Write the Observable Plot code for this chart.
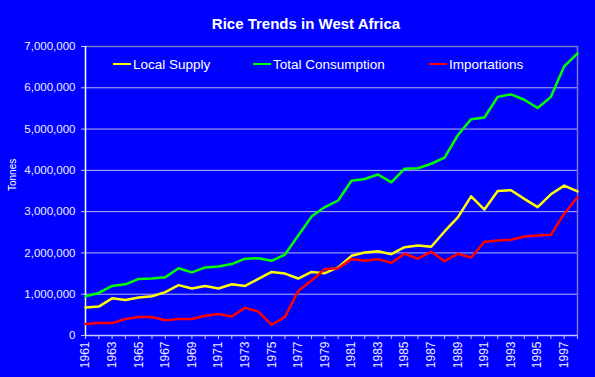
<!DOCTYPE html>
<html><head><meta charset="utf-8">
<script src="https://cdn.jsdelivr.net/npm/d3@7"></script>
<script src="https://cdn.jsdelivr.net/npm/@observablehq/plot@0.6"></script>
<style>
html,body{margin:0;padding:0;background:#0000ff;}
#wrap{position:relative;width:595px;height:377px;background:#0000ff;overflow:hidden;font-family:"Liberation Sans",Arial,sans-serif;color:#fff;}
#title{position:absolute;left:0;top:15px;width:612px;text-align:center;font-size:15px;font-weight:bold;line-height:18px;white-space:nowrap;}
.leg{position:absolute;top:57px;font-size:13.5px;line-height:16px;white-space:nowrap;}
.leg i{display:inline-block;width:18px;height:2px;vertical-align:middle;margin-right:2px;position:relative;top:-1px;}
#chart{position:absolute;left:0;top:0;}
</style>
</head><body>
<div id="wrap">
  <div id="chart"></div>
  <div id="title">Rice Trends in West Africa</div>
  <div id="legend"></div>
</div>
<script>
const years = [1961,1962,1963,1964,1965,1966,1967,1968,1969,1970,1971,1972,1973,1974,1975,1976,1977,1978,1979,1980,1981,1982,1983,1984,1985,1986,1987,1988,1989,1990,1991,1992,1993,1994,1995,1996,1997,1998];
const labeledYears = [1961,1963,1965,1967,1969,1971,1973,1975,1977,1979,1981,1983,1985,1987,1989,1991,1993,1995,1997];
const seriesNames = ["Local Supply","Total Consumption","Importations"];
const seriesColors = ["#ffff00","#00ff00","#ff0000"];
const localSupply = [680000,700000,900000,860000,920000,950000,1050000,1220000,1140000,1200000,1140000,1240000,1200000,1370000,1540000,1500000,1380000,1540000,1510000,1650000,1930000,2010000,2040000,1970000,2140000,2180000,2150000,2520000,2860000,3370000,3050000,3500000,3520000,3310000,3110000,3420000,3630000,3490000];
const totalConsumption = [950000,1030000,1200000,1240000,1370000,1380000,1410000,1630000,1530000,1650000,1670000,1730000,1860000,1870000,1810000,1960000,2420000,2880000,3110000,3270000,3750000,3790000,3900000,3710000,4040000,4050000,4160000,4310000,4850000,5240000,5280000,5780000,5840000,5710000,5510000,5780000,6520000,6830000];
const importations = [280000,300000,300000,400000,450000,450000,370000,400000,400000,480000,520000,460000,670000,580000,260000,450000,1080000,1330000,1610000,1630000,1850000,1810000,1850000,1760000,1980000,1860000,2030000,1800000,1980000,1890000,2270000,2300000,2320000,2400000,2420000,2440000,2950000,3350000];
const yTicks = [0,1000000,2000000,3000000,4000000,5000000,6000000,7000000];
const gridTicks = [1000000,2000000,3000000,4000000,5000000,6000000];
const yLabel = "Tonnes";

const seriesValues = [localSupply, totalConsumption, importations];
const data = [];
seriesNames.forEach((s, k) => years.forEach((yr, i) => data.push({year: yr, series: s, value: seriesValues[k][i]})));

const chart = Plot.plot({
  width: 595, height: 377,
  marginLeft: 85, marginRight: 18, marginTop: 46, marginBottom: 42,
  style: {background: "transparent", color: "#eeeeff", fontFamily: "'Liberation Sans', Arial, sans-serif", fontSize: "11.5px", overflow: "visible"},
  x: {domain: [1961, 1998]},
  y: {domain: [0, 7000000]},
  color: {domain: seriesNames, range: seriesColors},
  marks: [
    Plot.gridY(gridTicks, {stroke: "#b8b8f0", strokeOpacity: 1, strokeWidth: 1}),
    Plot.ruleY([7000000], {stroke: "#7a7ac8", strokeWidth: 1.5}),
    Plot.ruleX([1998], {stroke: "#7a7ac8", strokeWidth: 1.5}),
    Plot.axisY(yTicks, {tickSize: 4, tickPadding: 6, tickFormat: d3.format(","), label: null, stroke: "#b8b8f0", fontSize: 11.5}),
    Plot.axisX(years, {tickSize: 4, tickPadding: 2, tickRotate: -90, tickFormat: d => labeledYears.includes(d) ? String(d) : "", label: null, stroke: "#c8c8ff", fontSize: 12}),
    Plot.ruleY([0], {stroke: "#c8c8ff", strokeWidth: 1.5}),
    Plot.ruleX([1961], {stroke: "#ffffff", strokeWidth: 1.5}),
    Plot.text([yLabel], {frameAnchor: "left", rotate: -90, dx: -73, fontSize: 10, fill: "#ffffff"}),
    Plot.line(data, {x: "year", y: "value", z: "series", stroke: "series", strokeWidth: 2.5})
  ]
});
document.getElementById("chart").appendChild(chart);

const legendPos = [113, 253, 429];
const legend = document.getElementById("legend");
seriesNames.forEach((s, k) => {
  const d = document.createElement("div");
  d.className = "leg";
  d.style.left = legendPos[k] + "px";
  d.innerHTML = `<i style="background:${seriesColors[k]}"></i>${s}`;
  legend.appendChild(d);
});
</script>
</body></html>
